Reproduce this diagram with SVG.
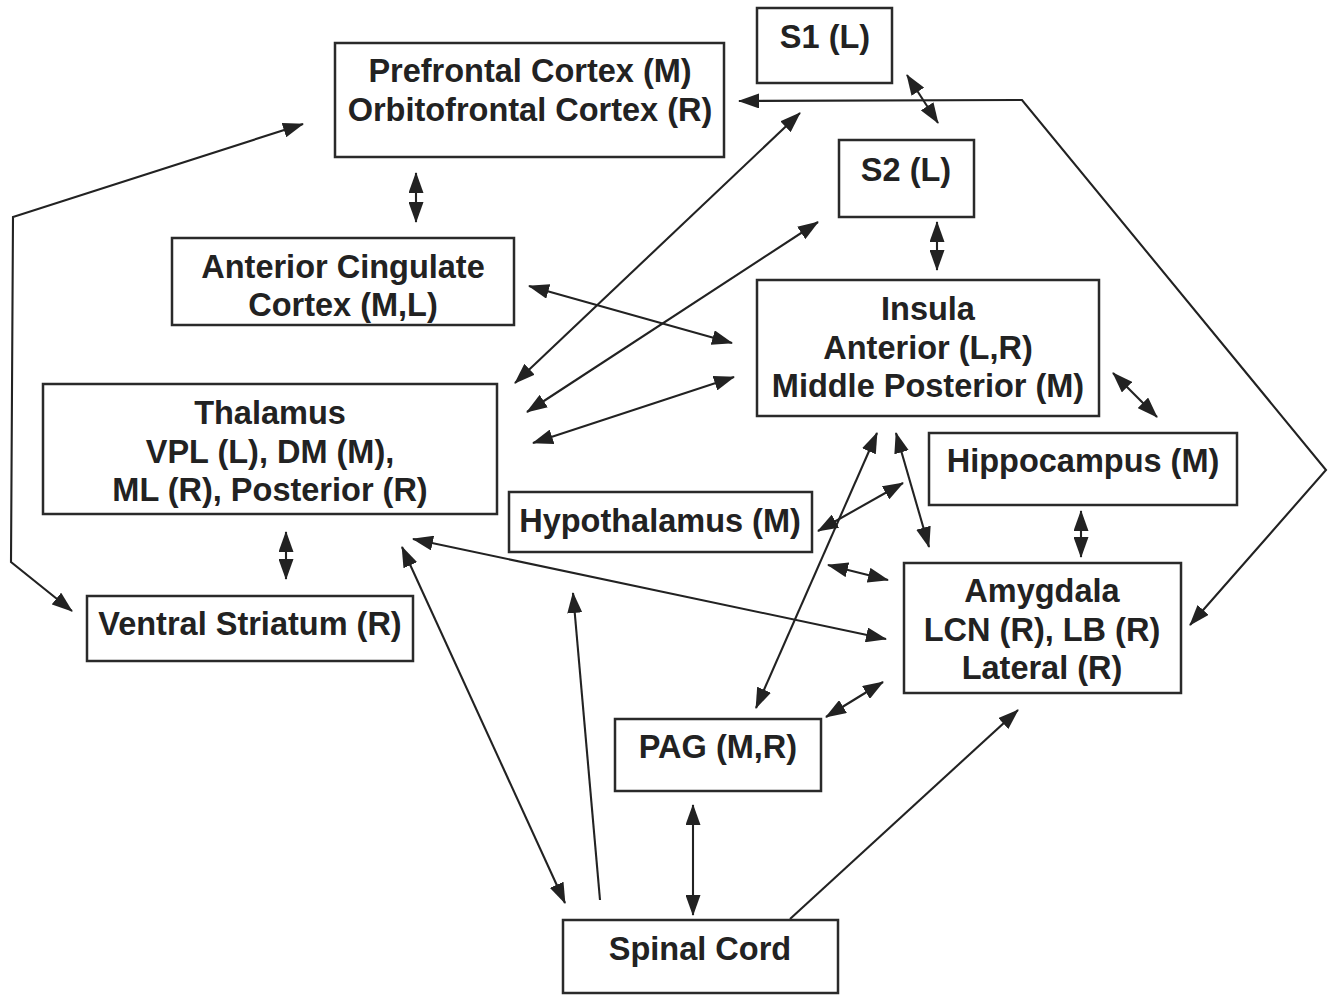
<svg xmlns="http://www.w3.org/2000/svg" width="1334" height="999" viewBox="0 0 1334 999">
<defs>
<style>
.box{fill:#fff;stroke:#2a2a2a;stroke-width:2.5}
.lbl{font-family:"Liberation Sans",Arial,sans-serif;font-weight:bold;font-size:32.5px;fill:#222;text-anchor:middle}
.c{fill:none;stroke:#222;stroke-width:2.1;marker-end:url(#ah)}
.d{marker-start:url(#ah)}
</style>
<marker id="ah" viewBox="0 0 21 15" markerWidth="21" markerHeight="15" refX="20" refY="7.5" markerUnits="userSpaceOnUse" orient="auto-start-reverse">
<path d="M0,0 L21,7.5 L0,15 z" fill="#222"/>
</marker>
</defs>
<rect width="1334" height="999" fill="#fff"/>
<g id="connectors">
<polyline class="c d" points="303,124 13,217 11,562 72,611"/>
<line class="c d" x1="416" y1="173" x2="416" y2="222"/>
<line class="c d" x1="907" y1="75" x2="938" y2="123"/>
<polyline class="c d" points="1190,625 1326,470 1022,100 739,101" />
<line class="c d" x1="800" y1="113" x2="515" y2="383"/>
<line class="c d" x1="818" y1="222" x2="527" y2="412"/>
<line class="c d" x1="529" y1="286" x2="732" y2="343"/>
<line class="c d" x1="533" y1="443" x2="734" y2="377"/>
<line class="c d" x1="937" y1="222" x2="937" y2="270"/>
<line class="c d" x1="1113" y1="373" x2="1157" y2="417"/>
<line class="c d" x1="1081" y1="511" x2="1081" y2="557"/>
<line class="c d" x1="877" y1="433" x2="756" y2="708"/>
<line class="c d" x1="896" y1="433" x2="929" y2="547"/>
<line class="c d" x1="818" y1="531" x2="903" y2="483"/>
<line class="c d" x1="828" y1="565" x2="888" y2="580"/>
<line class="c d" x1="886" y1="639" x2="413" y2="539"/>
<line class="c d" x1="402" y1="547" x2="565" y2="903"/>
<line class="c" x1="600" y1="900" x2="573" y2="593"/>
<line class="c d" x1="693" y1="805" x2="693" y2="915"/>
<line class="c d" x1="826" y1="717" x2="883" y2="682"/>
<line class="c" x1="790" y1="919" x2="1018" y2="710"/>
<line class="c d" x1="286" y1="532" x2="286" y2="579"/>
</g>
<g id="prefrontal"><rect class="box" x="335" y="43" width="389" height="114"/><text class="lbl" x="530" y="82">Prefrontal Cortex (M)</text><text class="lbl" x="530" y="121">Orbitofrontal Cortex (R)</text></g>
<g id="s1"><rect class="box" x="757" y="8" width="135" height="75"/><text class="lbl" x="825" y="48">S1 (L)</text></g>
<g id="s2"><rect class="box" x="839" y="140" width="135" height="77"/><text class="lbl" x="906" y="181">S2 (L)</text></g>
<g id="acc"><rect class="box" x="172" y="238" width="342" height="87"/><text class="lbl" x="343" y="278">Anterior Cingulate</text><text class="lbl" x="343" y="316">Cortex (M,L)</text></g>
<g id="insula"><rect class="box" x="757" y="280" width="342" height="136"/><text class="lbl" x="928" y="320">Insula</text><text class="lbl" x="928" y="359">Anterior (L,R)</text><text class="lbl" x="928" y="397">Middle Posterior (M)</text></g>
<g id="thalamus"><rect class="box" x="43" y="384" width="454" height="130"/><text class="lbl" x="270" y="424">Thalamus</text><text class="lbl" x="270" y="463">VPL (L), DM (M),</text><text class="lbl" x="270" y="501">ML (R), Posterior (R)</text></g>
<g id="hippocampus"><rect class="box" x="929" y="433" width="308" height="72"/><text class="lbl" x="1083" y="472">Hippocampus (M)</text></g>
<g id="hypothalamus"><rect class="box" x="509" y="492" width="303" height="60"/><text class="lbl" x="660" y="532">Hypothalamus (M)</text></g>
<g id="amygdala"><rect class="box" x="904" y="563" width="277" height="130"/><text class="lbl" x="1042" y="602">Amygdala</text><text class="lbl" x="1042" y="641">LCN (R), LB (R)</text><text class="lbl" x="1042" y="679">Lateral (R)</text></g>
<g id="ventral-striatum"><rect class="box" x="87" y="596" width="326" height="65"/><text class="lbl" x="250" y="635">Ventral Striatum (R)</text></g>
<g id="pag"><rect class="box" x="615" y="719" width="206" height="72"/><text class="lbl" x="718" y="758">PAG (M,R)</text></g>
<g id="spinal-cord"><rect class="box" x="563" y="920" width="275" height="73"/><text class="lbl" x="700" y="960">Spinal Cord</text></g>
</svg>
